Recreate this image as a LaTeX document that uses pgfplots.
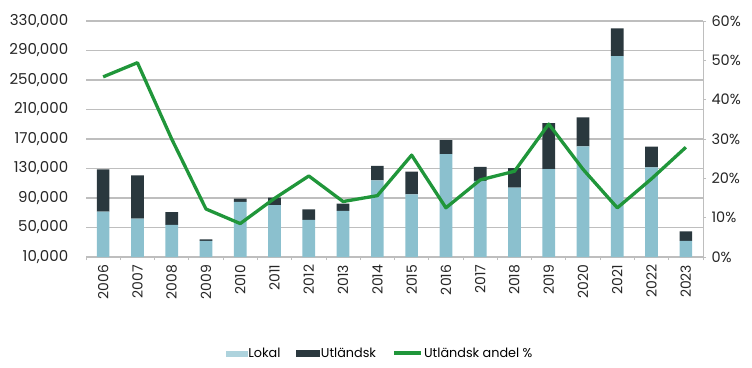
\documentclass[border=0pt]{standalone}
\usepackage{pgfplots}
\pgfplotsset{compat=1.18}
\usepackage{fontspec}
\setmainfont{Poppins}
\definecolor{lokal}{RGB}{139,192,206}
\definecolor{utl}{RGB}{42,56,62}
\definecolor{grn}{RGB}{32,150,58}
\definecolor{gridc}{RGB}{190,190,190}
\begin{document}
\begin{tikzpicture}
\path[use as bounding box] (0pt,0pt) rectangle (752pt,367pt);
\begin{axis}[at={(86pt,110pt)}, anchor=south west, scale only axis,
  width=617pt, height=236pt,
  xmin=-0.5, xmax=17.5, ymin=10000, ymax=330000,
  scaled y ticks=false,
  ybar stacked, bar width=12.7pt,
  axis lines*=left,
  y axis line style={draw=none},
  x axis line style={gridc, line width=1pt},
  xtick={0,...,17},
  xticklabels={2006,2007,2008,2009,2010,2011,2012,2013,2014,2015,2016,2017,2018,2019,2020,2021,2022,2023},
  xticklabel style={rotate=90, anchor=east, font=\fontsize{14}{15}\selectfont, text=black!85},
  major x tick style={draw=none},
  minor xtick={-0.5,0.5,...,17.5},
  minor x tick style={gridc, line width=0.8pt},
  minor tick length=3pt,
  ytick={10000,50000,90000,130000,170000,210000,250000,290000,330000},
  yticklabels={{10,000},{50,000},{90,000},{130,000},{170,000},{210,000},{250,000},{290,000},{330,000}},
  yticklabel style={font=\fontsize{15}{16}\selectfont, text=black!85, xshift=-10pt},
  major y tick style={draw=none},
  ymajorgrids, grid style={gridc, line width=1.1pt},
  tick align=outside,
]
\addplot[fill=lokal, draw=none] coordinates {
(0,71400) (1,61900) (2,53400) (3,31700) (4,84600) (5,80500) (6,60200) (7,72400) (8,114000)
(9,95000) (10,149400) (11,113200) (12,104200) (13,129000) (14,160100) (15,282400) (16,131400) (17,32000)};
\addplot[fill=utl, draw=none] coordinates {
(0,57500) (1,58900) (2,17600) (3,2300) (4,4400) (5,9900) (6,14500) (7,9900) (8,19400)
(9,30700) (10,19000) (11,19000) (12,26200) (13,62400) (14,39300) (15,37700) (16,28300) (17,12600)};
\end{axis}
\begin{axis}[at={(86pt,110pt)}, anchor=south west, scale only axis,
  width=617pt, height=236pt,
  xmin=-0.5, xmax=17.5, ymin=0, ymax=60,
  axis x line=none,
  axis y line*=right,
  y axis line style={gridc, line width=1pt},
  ytick={0,10,20,30,40,50,60},
  yticklabels={0\%,10\%,20\%,30\%,40\%,50\%,60\%},
  yticklabel style={font=\fontsize{14.5}{16}\selectfont, text=black!85, xshift=2pt},
  major y tick style={gridc, line width=0.8pt},
  tick align=outside, major tick length=3pt,
  legend style={at={(0.476,-0.408)}, anchor=center, draw=none, fill=none,
    font=\fontsize{12.8}{14}\selectfont, legend columns=3,
    /tikz/every even column/.append style={column sep=15pt},
    nodes={inner sep=1pt}},
  legend cell align=left,
]
\addlegendimage{legend image code/.code={\fill[lokal!70] (0pt,-2.5pt) rectangle (21pt,2.5pt);}}
\addlegendentry{Lokal}
\addlegendimage{legend image code/.code={\fill[utl] (0pt,-3pt) rectangle (23pt,3pt);}}
\addlegendentry{Utländsk}
\addplot[grn, line width=3.3pt, line join=round, mark=none,
  legend image code/.code={\draw[grn, line width=4pt] (0pt,0pt) -- (27pt,0pt);}] coordinates {
(0,45.8) (1,49.4) (2,30.0) (3,12.2) (4,8.5) (5,14.9) (6,20.6) (7,14.1) (8,15.6)
(9,25.9) (10,12.5) (11,19.6) (12,21.8) (13,33.8) (14,22.3) (15,12.5) (16,19.9) (17,27.9)};
\addlegendentry{Utländsk andel \%}
\end{axis}
\end{tikzpicture}
\end{document}
